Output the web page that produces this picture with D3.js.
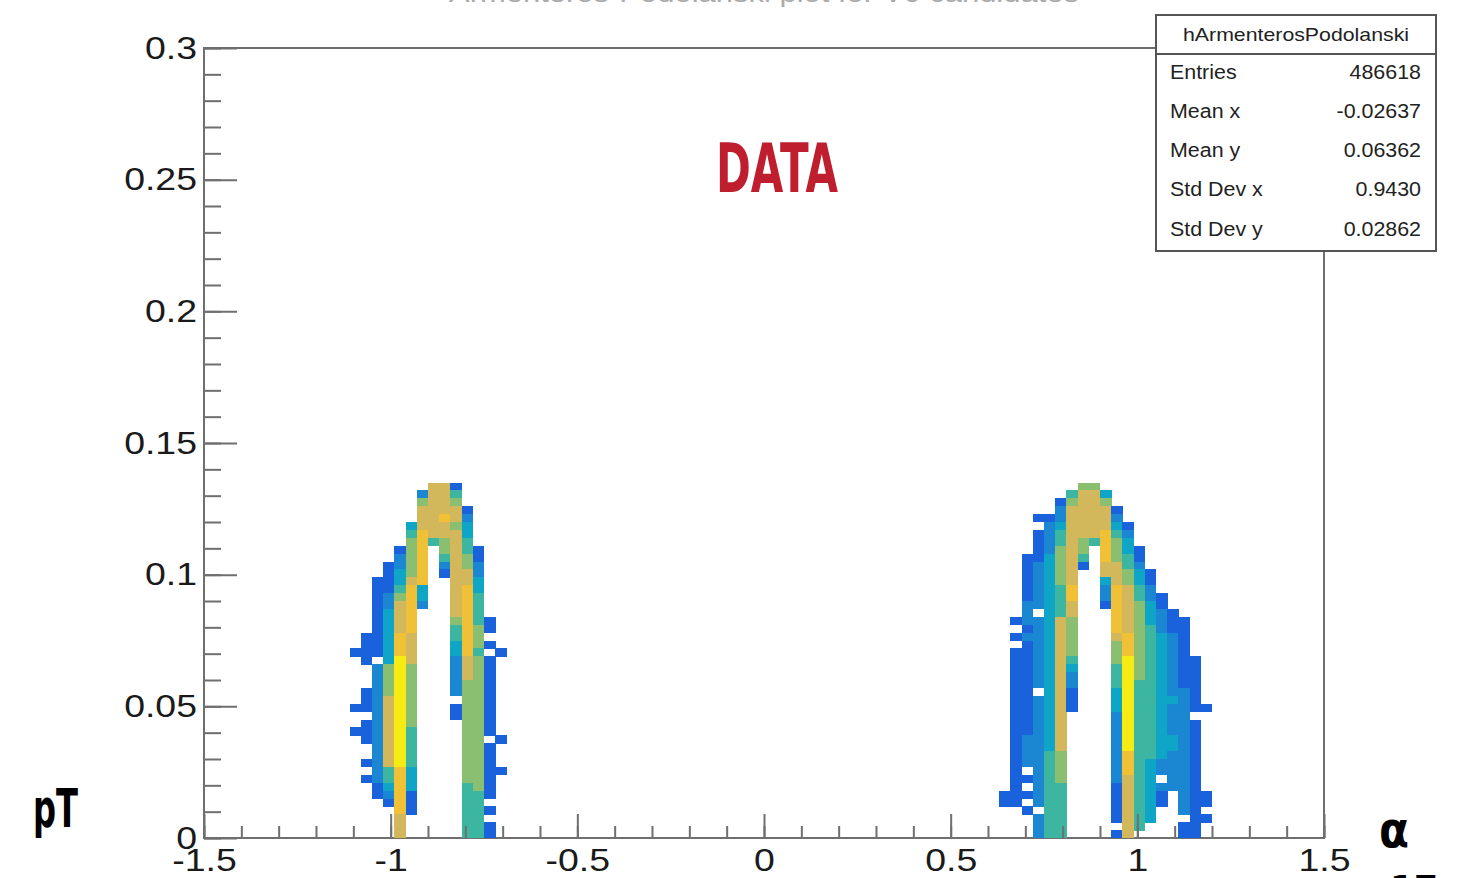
<!DOCTYPE html>
<meta charset="utf-8">
<script src="https://d3js.org/d3.v7.min.js"></script>
<style>
  body { margin: 0; background: #fff; }
  svg { display: block; font-family: "Liberation Sans", Arial, sans-serif; }
</style>
<body>
<div id="chart"></div>
<script>
// 2D histogram: 100 x 100 bins over alpha [-1.5,1.5], pT [0,0.3]
const xRange = [-1.5, 1.5];
const yRange = [0, 0.3];
const nBinsX = 100, nBinsY = 100;

const xMajorTicks = [-1.5, -1, -0.5, 0, 0.5, 1, 1.5];
const xTickLabels = ["-1.5", "-1", "-0.5", "0", "0.5", "1", "1.5"];
const yMajorTicks = [0, 0.05, 0.1, 0.15, 0.2, 0.25, 0.3];
const yTickLabels = ["0", "0.05", "0.1", "0.15", "0.2", "0.25", "0.3"];

const statNames = ["Entries", "Mean x", "Mean y", "Std Dev x", "Std Dev y"];
const statValues = ["486618", "-0.02637", "0.06362", "0.9430", "0.02862"];

// cell content levels (1 = lowest .. 8 = highest), '.' = empty
// rows listed from top bin row (44) down to bin row 0
const topRow = 44;
const leftFirstBin = 13;
const leftRows = [
  ".......661....",
  "......2664....",
  "......5665....",
  "......66661...",
  "......66762...",
  ".....366653...",
  ".....476663...",
  ".....574564...",
  "....157.5641..",
  "....257.4651..",
  "...1257.2652..",
  "...1357.1662..",
  "..11367..663..",
  "..11473..673..",
  "..12573..674..",
  "..12672..674..",
  "..1367...674..",
  "..1367...5741.",
  "..1367...4751.",
  ".11376...475..",
  ".11376...3751.",
  "111376...374.1",
  ".1.386...2651.",
  "..2585...2651.",
  "..2585...2651.",
  "..2585...2551.",
  ".12585...2551.",
  ".12685....551.",
  "112685...1551.",
  "..2685...1551.",
  ".12685....551.",
  "112684....551.",
  ".12684....55.1",
  "..2684....551.",
  "..2684....551.",
  ".12684....551.",
  "..2473....5511",
  ".12473....551.",
  "..1373....451.",
  "..1271....441.",
  "...171....44..",
  "....71....441.",
  "....6.....44..",
  "....6.....441.",
  "....6.....441."
];

const rightFirstBin = 71;
const rightRows = [
  ".......55..........",
  "......4663.........",
  ".....15665.........",
  ".....266661........",
  "...11266662........",
  "....23666631.......",
  "...124666742.......",
  "...124654753.......",
  "...12565.7531......",
  "..113564.7541......",
  "..123561.6642......",
  "..12356..66531.....",
  "..12356..36531.....",
  "..12347..27642.....",
  "..12347..276421....",
  "..22346..176531....",
  "..2.346...765321...",
  ".122365...7653211..",
  "..12365...7654211..",
  ".122365...6754321..",
  "..12365...5754321..",
  ".112365...5754321..",
  ".112364...58543211.",
  ".112363...48543211.",
  ".112362...48543211.",
  ".112362...48443211.",
  ".11.361...38443221.",
  ".112361...38443321.",
  ".112361...384432211",
  ".11236....2844322..",
  ".11236....28443221.",
  ".11236....28443221.",
  ".12236....28443321.",
  ".12236....28443321.",
  ".12245....27443221.",
  ".12245....27432221.",
  ".1.245....27432221.",
  ".11245....2643.221.",
  ".1.244....16432221.",
  "111244....16431.211",
  "11.244....16431.211",
  "..1.44....1643..21.",
  "...244....1643...11",
  "...244.....64...11.",
  "...244....16....11."
];

const palette = ["#1a62db", "#1b86d2", "#0ea5c6", "#3cb6a0", "#8abf72",
                 "#d2b85a", "#f0c136", "#f6ec14"];

const W = 1479, H = 878;
const plot = {left: 204, right: 1324, top: 48, bottom: 838};

const svg = d3.select("#chart").append("svg")
  .attr("width", W).attr("height", H);

const x = d3.scaleLinear().domain(xRange).range([plot.left, plot.right]);
const y = d3.scaleLinear().domain(yRange).range([plot.bottom, plot.top]);
const bwX = (xRange[1] - xRange[0]) / nBinsX;
const bwY = (yRange[1] - yRange[0]) / nBinsY;

// build cells from the row strings
function cellsFrom(rows, firstBin) {
  const out = [];
  rows.forEach((row, r) => {
    const j = topRow - r;
    for (let i = 0; i < row.length; i++) {
      const c = row[i];
      if (c === ".") continue;
      out.push({ix: firstBin + i, iy: j, level: +c});
    }
  });
  return out;
}
const cells = cellsFrom(leftRows, leftFirstBin).concat(cellsFrom(rightRows, rightFirstBin));

// frame
svg.append("rect")
  .attr("x", plot.left).attr("y", plot.top)
  .attr("width", plot.right - plot.left).attr("height", plot.bottom - plot.top)
  .attr("fill", "none").attr("stroke", "#6f6f6f").attr("stroke-width", 2);

// histogram cells
svg.append("g").attr("shape-rendering", "crispEdges")
  .selectAll("rect").data(cells).join("rect")
    .attr("x", d => x(xRange[0] + d.ix * bwX))
    .attr("width", d => x(xRange[0] + (d.ix + 1) * bwX) - x(xRange[0] + d.ix * bwX) + 0.4)
    .attr("y", d => y(yRange[0] + (d.iy + 1) * bwY))
    .attr("height", d => y(yRange[0] + d.iy * bwY) - y(yRange[0] + (d.iy + 1) * bwY) + 0.4)
    .attr("fill", d => palette[d.level - 1]);

function stretch(sel, f) {
  sel.each(function() {
    const w = this.getComputedTextLength();
    d3.select(this).attr("textLength", w * f).attr("lengthAdjust", "spacingAndGlyphs");
  });
}

// x axis: major + minor ticks pointing up
const gxMinor = svg.append("g").attr("transform", `translate(0,${plot.bottom})`)
  .call(d3.axisBottom(x).tickValues(d3.range(-15, 16).map(v => v / 10))
    .tickSizeInner(-12).tickSizeOuter(0).tickFormat(""));
const gx = svg.append("g").attr("transform", `translate(0,${plot.bottom})`)
  .call(d3.axisBottom(x).tickValues(xMajorTicks).tickSizeInner(-24).tickSizeOuter(0)
    .tickPadding(10).tickFormat((d, i) => xTickLabels[i]));

// y axis: major + minor ticks pointing right
const gyMinor = svg.append("g").attr("transform", `translate(${plot.left},0)`)
  .call(d3.axisLeft(y).tickValues(d3.range(0, 31).map(v => v / 100))
    .tickSizeInner(-17).tickSizeOuter(0).tickFormat(""));
const gy = svg.append("g").attr("transform", `translate(${plot.left},0)`)
  .call(d3.axisLeft(y).tickValues(yMajorTicks).tickSizeInner(-33).tickSizeOuter(0)
    .tickPadding(7).tickFormat((d, i) => yTickLabels[i]));

[gxMinor, gx, gyMinor, gy].forEach(g => {
  g.select(".domain").remove();
  g.selectAll(".tick line").attr("stroke", "#6f6f6f").attr("stroke-width", 2);
  g.selectAll(".tick text").attr("fill", "#1a1a1a")
    .style("font-size", "32px").style("font-family", "'Liberation Sans', Arial, sans-serif");
});
stretch(gx.selectAll(".tick text"), 1.17);
stretch(gy.selectAll(".tick text"), 1.17);

// title, cut off at the top edge as in the original slide
svg.append("text")
  .attr("x", 764).attr("y", 2).attr("text-anchor", "middle")
  .attr("textLength", 630).attr("lengthAdjust", "spacingAndGlyphs")
  .style("font-size", "26px").attr("fill", "#aaa")
  .text("Armenteros-Podolanski plot for V0 candidates");

// stats box
const box = {x: 1156, y: 15, w: 280, h: 236};
svg.append("rect").attr("x", box.x).attr("y", box.y).attr("width", box.w).attr("height", box.h)
  .attr("fill", "#fff").attr("stroke", "#555").attr("stroke-width", 2);
svg.append("line").attr("x1", box.x).attr("x2", box.x + box.w)
  .attr("y1", 54).attr("y2", 54).attr("stroke", "#555").attr("stroke-width", 2);
svg.append("text").attr("x", box.x + box.w / 2).attr("y", 41).attr("text-anchor", "middle")
  .attr("textLength", 226).attr("lengthAdjust", "spacingAndGlyphs")
  .style("font-size", "19px").attr("fill", "#222").text("hArmenterosPodolanski");
const statRows = svg.append("g").selectAll("g").data(statNames).join("g");
statRows.append("text")
  .attr("x", 1170).attr("y", (d, i) => 78.5 + i * 39.3)
  .style("font-size", "20px").attr("fill", "#222").text(d => d);
statRows.append("text")
  .attr("x", 1421).attr("y", (d, i) => 78.5 + i * 39.3).attr("text-anchor", "end")
  .style("font-size", "20px").attr("fill", "#222").text((d, i) => statValues[i]);
stretch(statRows.selectAll("text"), 1.07);

// annotations
svg.append("text").attr("x", 716).attr("y", 192)
  .attr("textLength", 122).attr("lengthAdjust", "spacingAndGlyphs")
  .style("font-family", "'DejaVu Sans', sans-serif").style("font-weight", "bold")
  .style("font-size", "67px").attr("fill", "#be1e2d").text("DATA");
svg.append("text").attr("x", 33).attr("y", 827)
  .attr("textLength", 45).attr("lengthAdjust", "spacingAndGlyphs")
  .style("font-family", "'DejaVu Sans', sans-serif").style("font-weight", "bold")
  .style("font-size", "53px").attr("fill", "#000").text("pT");
svg.append("text").attr("x", 1379).attr("y", 847)
  .attr("textLength", 30).attr("lengthAdjust", "spacingAndGlyphs")
  .style("font-family", "'DejaVu Sans', sans-serif").style("font-weight", "bold")
  .style("font-size", "50px").attr("fill", "#000").text("α");
svg.append("text").attr("x", 1390).attr("y", 906)
  .attr("textLength", 48).attr("lengthAdjust", "spacingAndGlyphs")
  .style("font-family", "'DejaVu Sans', sans-serif").style("font-weight", "bold")
  .style("font-size", "42px").attr("fill", "#000").text("17");
</script>
</body>
